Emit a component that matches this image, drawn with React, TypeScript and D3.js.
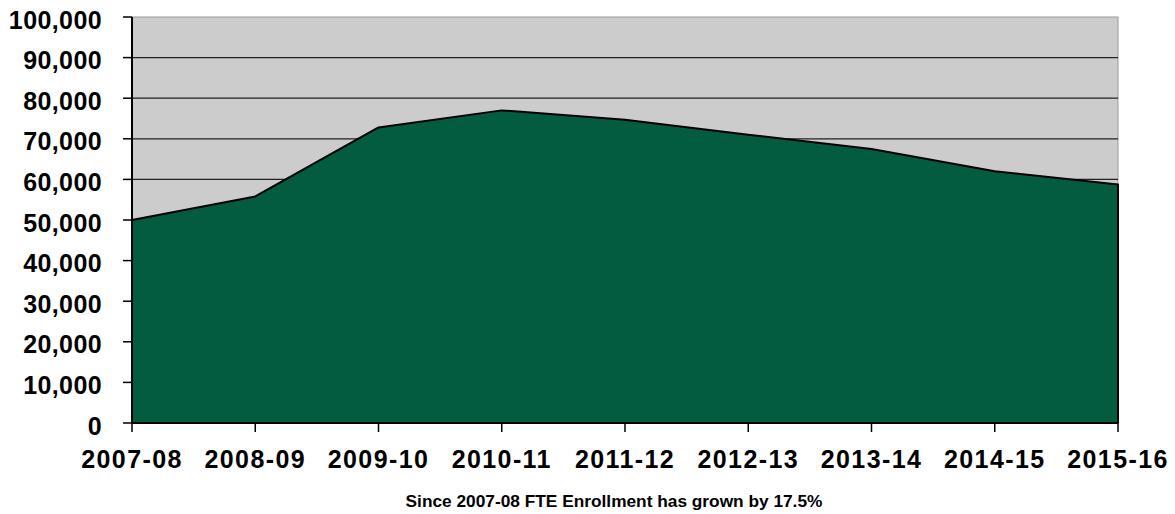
import React from 'react';
import * as d3 from 'd3';

const years = ['2007-08', '2008-09', '2009-10', '2010-11', '2011-12', '2012-13', '2013-14', '2014-15', '2015-16'];
const enrollment = [50000, 55800, 72800, 77000, 74700, 71000, 67500, 62000, 58750];
const yTicks = [0, 10000, 20000, 30000, 40000, 50000, 60000, 70000, 80000, 90000, 100000];
const note = 'Since 2007-08 FTE Enrollment has grown by 17.5%';

const W = 1175;
const H = 514;
const margin = { top: 17, right: 57, bottom: 91, left: 132 };

const App = () => {
  const innerW = W - margin.left - margin.right;
  const innerH = H - margin.top - margin.bottom;

  const x = d3.scalePoint<string>().domain(years).range([0, innerW]);
  const y = d3.scaleLinear().domain([0, 100000]).range([innerH, 0]);

  const pts = years.map((yr, i) => ({ yr, v: enrollment[i] }));
  const area = d3.area<{ yr: string; v: number }>()
    .x(d => x(d.yr) as number)
    .y0(innerH)
    .y1(d => y(d.v));
  const topLine = d3.line<{ yr: string; v: number }>()
    .x(d => x(d.yr) as number)
    .y(d => y(d.v));
  const fmt = d3.format(',');
  const font = '"Liberation Sans", Arial, sans-serif';

  return (
    <svg width={W} height={H} style={{ position: 'absolute', left: 0, top: 0 }}>
      <g transform={`translate(${margin.left},${margin.top})`}>
        <rect x={0} y={0} width={innerW} height={innerH} fill="#cccccc" stroke="#9a9a9a" strokeWidth={1} />
        {yTicks.slice(1, -1).map(t => (
          <line key={t} x1={0} x2={innerW} y1={y(t)} y2={y(t)} stroke="#222" strokeWidth={1.2} />
        ))}
        <path d={area(pts) || ''} fill="#035c40" />
        <path
          d={(topLine(pts) || '') + `L${innerW},${innerH}`}
          fill="none"
          stroke="#000"
          strokeWidth={2}
          strokeLinejoin="round"
        />
        {/* axes */}
        <line x1={0} x2={0} y1={0} y2={innerH} stroke="#000" strokeWidth={2} />
        <line x1={0} x2={innerW} y1={innerH} y2={innerH} stroke="#000" strokeWidth={2} />
        {yTicks.map(t => (
          <g key={t} transform={`translate(0,${y(t)})`}>
            <line x1={-9} x2={0} stroke="#000" strokeWidth={1.5} />
            <text
              x={-30}
              dy="0.46em"
              textAnchor="end"
              fontFamily={font}
              fontWeight="bold"
              fontSize={25}
              letterSpacing={0.4}
              fill="#000"
            >
              {fmt(t)}
            </text>
          </g>
        ))}
        {years.map(yr => (
          <g key={yr} transform={`translate(${x(yr)},${innerH})`}>
            <line y1={0} y2={9} stroke="#000" strokeWidth={1.5} />
            <text
              y={45}
              textAnchor="middle"
              fontFamily={font}
              fontWeight="bold"
              fontSize={25}
              letterSpacing={1.4}
              fill="#000"
            >
              {yr}
            </text>
          </g>
        ))}
        <text
          x={614 - margin.left}
          y={507 - margin.top}
          textAnchor="middle"
          fontFamily={font}
          fontWeight="bold"
          fontSize={17.3}
          fill="#000"
        >
          {note}
        </text>
      </g>
    </svg>
  );
};

export default App;
